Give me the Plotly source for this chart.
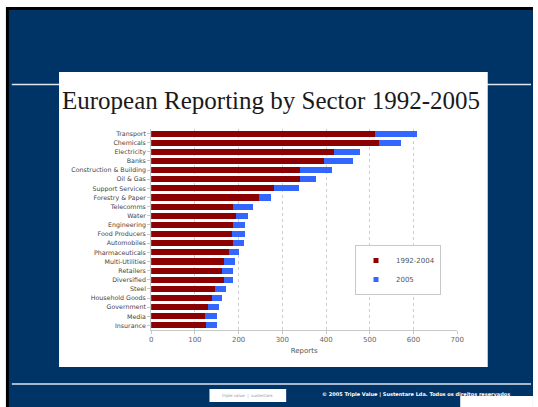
import plotly.graph_objects as go

sectors = ["Transport", "Chemicals", "Electricity", "Banks", "Construction & Building",
           "Oil & Gas", "Support Services", "Forestry & Paper", "Telecomms", "Water",
           "Engineering", "Food Producers", "Automobiles", "Pharmaceuticals", "Multi-Utilities",
           "Retailers", "Diversified", "Steel", "Household Goods", "Government", "Media", "Insurance"]
reports_1992_2004 = [512, 522, 417, 396, 340, 341, 280, 247, 188, 193, 187, 185, 187, 178, 166,
                     161, 167, 146, 138, 131, 123, 125]
reports_2005 = [95, 49, 61, 66, 74, 37, 59, 28, 45, 28, 28, 30, 26, 22, 26, 27, 20, 24, 23, 25, 27, 25]
x_ticks = [0, 100, 200, 300, 400, 500, 600, 700]
series_names = ["1992-2004", "2005"]
series_colors = ["#8b0000", "#3366ff"]

W, H = 538, 407
def px(x): return x / W
def py(y): return 1 - y / H

fig = go.Figure()
for vals, name, col in zip([reports_1992_2004, reports_2005], series_names, series_colors):
    fig.add_trace(go.Bar(y=sectors, x=vals, orientation="h", name=name,
                         marker=dict(color=col, line=dict(width=0)), showlegend=False))
# legend entries with small square markers
for i, (name, col) in enumerate(zip(series_names, series_colors)):
    fig.add_trace(go.Scatter(x=[None], y=[None], mode="markers", name=name,
                             marker=dict(symbol="square", size=5, color=col),
                             legendgroup=f"g{i}", showlegend=True))

shapes = [
    dict(type="rect", xref="paper", yref="paper", x0=px(4), x1=px(W + 2), y0=py(H + 2), y1=py(7),
         fillcolor="#000000", line=dict(width=0), layer="below"),
    dict(type="rect", xref="paper", yref="paper", x0=px(7), x1=px(W + 2), y0=py(H + 2), y1=py(10),
         fillcolor="#003366", line=dict(width=0), layer="below"),
    dict(type="line", xref="paper", yref="paper", x0=px(10), x1=px(W), y0=py(84.5), y1=py(84.5),
         line=dict(color="#dde6f0", width=1.5), layer="below"),
    dict(type="line", xref="paper", yref="paper", x0=px(10), x1=px(W), y0=py(384), y1=py(384),
         line=dict(color="#dde6f0", width=1.5), layer="below"),
    dict(type="rect", xref="paper", yref="paper", x0=px(58), x1=px(494), y0=py(367), y1=py(72),
         fillcolor="#ffffff", line=dict(width=0), layer="below"),
    dict(type="rect", xref="paper", yref="paper", x0=px(211), x1=px(289), y0=py(402), y1=py(389),
         fillcolor="#ffffff", line=dict(width=0), layer="below"),
    dict(type="rect", xref="paper", yref="paper", x0=px(466), x1=px(W + 2), y0=py(H + 2), y1=py(396),
         fillcolor="#ffffff", line=dict(width=0), layer="below"),
]

annotations = [
    dict(text="European Reporting by Sector 1992-2005", xref="paper", yref="paper",
         x=px(274), y=py(100), xanchor="center", yanchor="middle", showarrow=False,
         font=dict(family="Liberation Serif", size=25, color="#1a1a1a")),
    dict(text="triple value  |  sustentare", xref="paper", yref="paper",
         x=px(250), y=py(395.5), xanchor="center", yanchor="middle", showarrow=False,
         font=dict(family="DejaVu Sans", size=4, color="#8899aa")),
    dict(text="<b>© 2005 Triple Value | Sustentare Lda. Todos os direitos reservados</b>",
         xref="paper", yref="paper", x=px(323), y=py(394), xanchor="left", yanchor="middle",
         showarrow=False, font=dict(family="DejaVu Sans", size=5, color="#ffffff")),
]

fig.update_layout(
    width=W, height=H, margin=dict(l=0, r=0, t=0, b=0),
    paper_bgcolor="#ffffff", plot_bgcolor="rgba(0,0,0,0)",
    barmode="stack", bargap=0.33,
    shapes=shapes, annotations=annotations,
    showlegend=True,
    legend=dict(x=px(359), y=py(245), xanchor="left", yanchor="top",
                bgcolor="#ffffff", bordercolor="#c8c8c8", borderwidth=1,
                font=dict(family="DejaVu Sans", size=7, color="#555555"),
                tracegroupgap=3, itemwidth=30, traceorder="normal"),
    xaxis=dict(domain=[px(151.7), px(463)], range=[0, 700], tickvals=x_ticks,
               showgrid=True, gridcolor="#cfcfcf", griddash="dot", gridwidth=1,
               zeroline=False, showline=True, linecolor="#c8c8c8", linewidth=1,
               ticks="outside", ticklen=3, tickcolor="#c8c8c8",
               tickfont=dict(family="DejaVu Sans", size=7, color="#666666"),
               title=dict(text="Reports", font=dict(family="DejaVu Sans", size=7, color="#555555"),
                          standoff=4)),
    yaxis=dict(domain=[py(330), py(129)], autorange="reversed", categoryorder="array",
               categoryarray=sectors, showgrid=False, showline=True, linecolor="#c8c8c8",
               linewidth=1, ticks="outside", ticklen=3, tickcolor="#c8c8c8",
               tickfont=dict(family="DejaVu Sans", size=6.3, color="#444444")),
)

fig.write_html("out.html")
